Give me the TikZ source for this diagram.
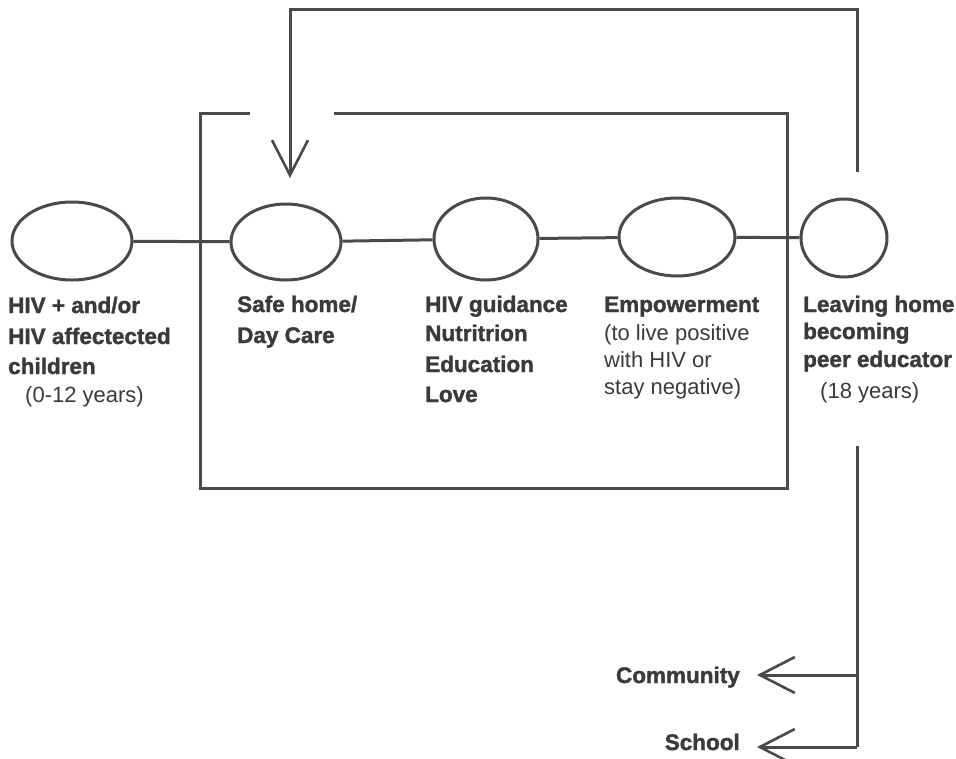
\documentclass[tikz,border=0pt]{standalone}
\usepackage{fontspec}
\setmainfont{Liberation Sans}[BoldFeatures={FakeBold=1.5}]
\usetikzlibrary{shapes.geometric,arrows.meta}
\definecolor{ink}{HTML}{3A3A3A}
\definecolor{linegray}{HTML}{4A4A4A}
\tikzset{
  stage/.style={ellipse,draw=linegray,line width=3pt,inner sep=0pt},
  link/.style={draw=linegray,line width=3pt},
  lbl/.style={anchor=base west,inner sep=0pt,text=ink,font=\fontsize{22.5}{27}\selectfont\bfseries},
  lblr/.style={anchor=base west,inner sep=0pt,text=ink,font=\fontsize{22}{27}\selectfont},
  lble/.style={anchor=base east,inner sep=0pt,text=ink,font=\fontsize{22.5}{27}\selectfont\bfseries},
  barb/.style={-{Straight Barb[length=35pt,width=36pt,line width=2.6pt]}}
}
\begin{document}
\begin{tikzpicture}[x=1pt,y=-1pt]
\useasboundingbox (0,0) rectangle (956,758);
% stages
\node[stage,minimum width=120pt,minimum height=78pt] (e1) at (72,241) {};
\node[stage,minimum width=110pt,minimum height=76pt] (e2) at (286,242) {};
\node[stage,minimum width=104pt,minimum height=82pt] (e3) at (486,239) {};
\node[stage,minimum width=116pt,minimum height=78pt] (e4) at (677,237) {};
\node[stage,minimum width=86pt,minimum height=78pt] (e5) at (844,238) {};
\draw[link] (e1) -- (e2);
\draw[link] (e2) -- (e3);
\draw[link] (e3) -- (e4);
\draw[link] (e4) -- (e5);
% frame with gap for the feedback arrow
\draw[link,line cap=rect] (248,113) -- (200,113) -- (200,488) -- (787,488) -- (787,113) -- (335,113);
% feedback loop
\coordinate (fbstart) at (857,172);
\coordinate (fbend) at (290,178);
\draw[link,barb] (fbstart) -- (857,9) -| (fbend);
% labels
\node[lbl] (l1a) at (8,313) {HIV + and/or};
\node[lbl] (l1b) at (8,344) {HIV affectected};
\node[lbl] (l1c) at (8,374) {children};
\node[lblr] (l1d) at (25,402) {(0-12 years)};
\node[lbl] (l2a) at (237,312) {Safe home/};
\node[lbl] (l2b) at (237,343) {Day Care};
\node[lbl] (l3a) at (425,312) {HIV guidance};
\node[lbl] (l3b) at (425,341) {Nutritrion};
\node[lbl] (l3c) at (425,372) {Education};
\node[lbl] (l3d) at (425,402) {Love};
\node[lbl] (l4a) at (604,312) {Empowerment};
\node[lblr] (l4b) at (604,340) {(to live positive};
\node[lblr] (l4c) at (604,367) {with HIV or};
\node[lblr] (l4d) at (604,394) {stay negative)};
\node[lbl] (l5a) at (803,312) {Leaving home};
\node[lbl] (l5b) at (803,339) {becoming};
\node[lbl] (l5c) at (803,367) {peer educator};
\node[lblr] (l5d) at (820,398) {(18 years)};
% outcomes
\node[lble] (comm) at (740,683) {Community};
\node[lble] (school) at (740,750) {School};
\coordinate (dstart) at (857,446);
\coordinate (dcorner) at (857,747);
\coordinate (ctip) at (757,675);
\coordinate (stip) at (757,747);
\draw[link] (dstart) -- (dcorner);
\draw[link,barb] (dcorner) -- (stip);
\draw[link,barb] (dstart |- ctip) -- (ctip);
\end{tikzpicture}
\end{document}
